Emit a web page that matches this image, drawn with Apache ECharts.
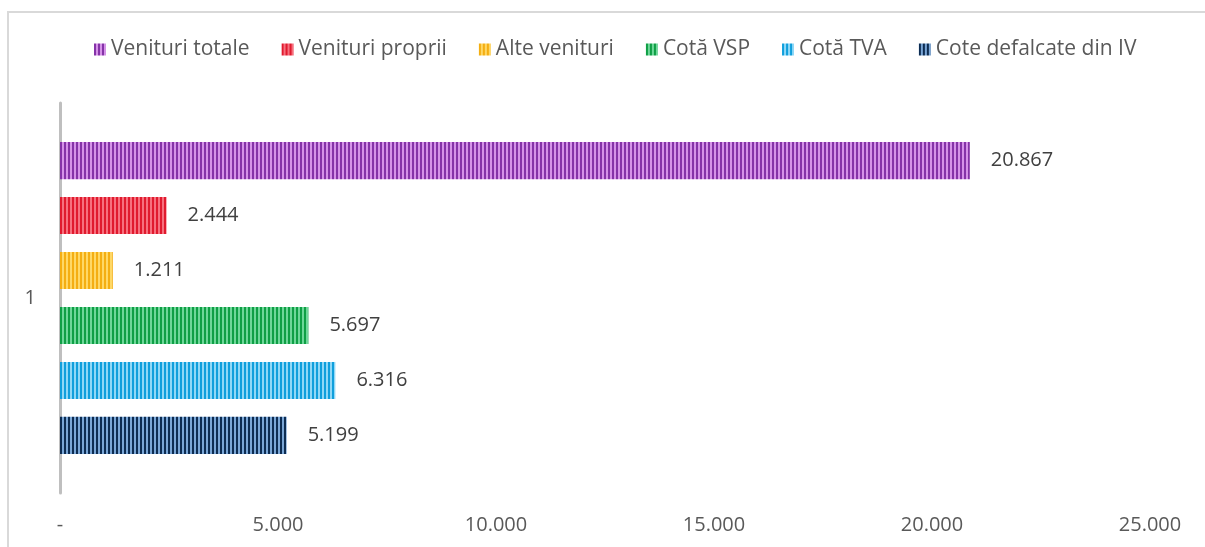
<!DOCTYPE html>
<html>
<head>
<meta charset="utf-8">
<script src="https://cdn.jsdelivr.net/npm/echarts@6/dist/echarts.min.js"></script>
<style>
html,body{margin:0;padding:0;background:#fff;}
#chart{width:1205px;height:547px;}
</style>
</head>
<body>
<div id="chart"></div>
<script>
const categories = ['1'];
const seriesNames = ['Venituri totale','Venituri proprii','Alte venituri','Cotă VSP','Cotă TVA','Cote defalcate din IV'];
const seriesValues = [20867, 2444, 1211, 5697, 6316, 5199];
const xTicks = [0, 5000, 10000, 15000, 20000, 25000];
const xTickLabels = ['-', '5.000', '10.000', '15.000', '20.000', '25.000'];

const palettes = [
  ['#8533A8', '#D592E8'],
  ['#E01A2E', '#F7707E'],
  ['#F4AE12', '#FFD866'],
  ['#0F9F45', '#6ED799'],
  ['#109FDC', '#8FD8F7'],
  ['#0D2C52', '#7AA6D6']
];

function makePattern(dark, light){
  const c = document.createElement('canvas');
  c.width = 4; c.height = 4;
  const ctx = c.getContext('2d');
  ctx.fillStyle = light; ctx.fillRect(0,0,4,4);
  ctx.fillStyle = dark; ctx.fillRect(0,0,2,4);
  return {image: c, repeat: 'repeat'};
}

function fmtNum(v){
  return v.toFixed(0).replace(/\B(?=(\d{3})+(?!\d))/g, '.');
}

const chart = echarts.init(document.getElementById('chart'), null, {renderer:'canvas'});
const font = '"Open Sans", "Noto Sans", sans-serif';

const series = seriesNames.map((name, i) => ({
  name: name,
  type: 'bar',
  data: [seriesValues[i]],
  barGap: '48%',
  barCategoryGap: '20%',
  itemStyle: { color: makePattern(palettes[i][0], palettes[i][1]) },
  label: {
    show: true,
    position: 'right',
    distance: 21,
    fontFamily: font,
    fontSize: 20,
    color: '#404040',
    formatter: p => fmtNum(p.value)
  },
  emphasis: { disabled: true }
}));

chart.setOption({
  animation: false,
  backgroundColor: '#fff',
  graphic: [{
    type: 'rect',
    shape: { x: 8, y: 12, width: 1400, height: 800 },
    style: { fill: 'none', stroke: '#D9D9D9', lineWidth: 2 },
    silent: true, z: -1
  }],
  legend: {
    top: 34,
    left: 89,
    icon: 'rect',
    itemWidth: 12,
    itemHeight: 12,
    itemGap: 32,
    textStyle: { fontFamily: font, fontSize: 21, color: '#595959' },
    data: seriesNames
  },
  grid: { left: 60, right: 55, top: 103, bottom: 54, containLabel: false },
  xAxis: {
    type: 'value',
    min: 0, max: 25000, interval: 5000,
    axisLine: { show: false },
    axisTick: { show: false },
    splitLine: { show: false },
    axisLabel: {
      margin: 22,
      fontFamily: font, fontSize: 20, color: '#595959',
      formatter: v => { const k = xTicks.indexOf(v); return k >= 0 ? xTickLabels[k] : fmtNum(v); }
    }
  },
  yAxis: {
    type: 'category',
    data: categories,
    inverse: true,
    axisLine: { show: true, lineStyle: { color: '#BFBFBF', width: 3 } },
    axisTick: { show: false },
    axisLabel: { margin: 24, fontFamily: font, fontSize: 20, color: '#595959' }
  },
  series: series
});
</script>
</body>
</html>
